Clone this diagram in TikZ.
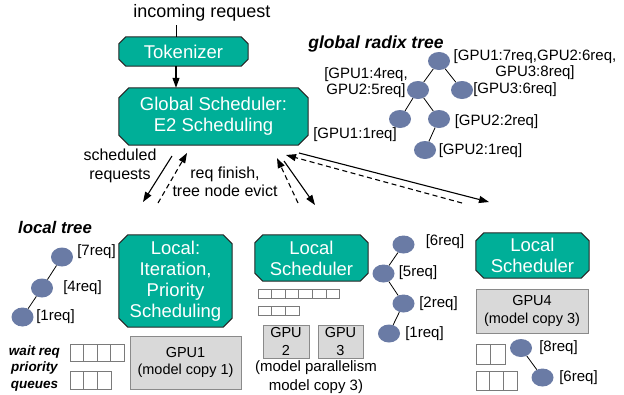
\documentclass[tikz,border=0pt]{standalone}
\usepackage{fontspec}
\setmainfont{Liberation Sans}
\usetikzlibrary{calc,arrows.meta,backgrounds,shapes.geometric}
\definecolor{tealc}{HTML}{00AF98}
\definecolor{treec}{HTML}{6A7BA5}
\definecolor{gpuc}{HTML}{D9D9D9}
\definecolor{gpub}{HTML}{8A8A8A}
\definecolor{cellb}{HTML}{7A7A7A}
\newcommand\octobox[2]{%
  \begin{pgfonlayer}{background}
  \path[octoshape] ($(#1.north west)+(#2pt,0pt)$) -- ($(#1.north east)+(-#2pt,0pt)$) -- ($(#1.north east)+(0pt,-#2pt)$) -- ($(#1.south east)+(0pt,#2pt)$) -- ($(#1.south east)+(-#2pt,0pt)$) -- ($(#1.south west)+(#2pt,0pt)$) -- ($(#1.south west)+(0pt,#2pt)$) -- ($(#1.north west)+(0pt,-#2pt)$) -- cycle;
  \end{pgfonlayer}}
\newcommand\cellrow[5]{\foreach \ci in {1,...,#3}{\draw[cellst] ({#1+(\ci-1)*#4},#2) rectangle ++(#4,#5);}}
\tikzset{
  tealbox/.style={rectangle, inner sep=0pt, text=white, align=center, font=\fontsize{18.5}{21}\selectfont},
  octoshape/.style={fill=tealc, draw=black!85, line width=1pt},
  gpubox/.style={rectangle, fill=gpuc, draw=gpub, line width=1pt, align=center, inner sep=0pt, font=\fontsize{14.5}{17.5}\selectfont},
  tnode/.style={ellipse, fill=treec, minimum width=22pt, minimum height=18pt, inner sep=0pt},
  tlabel/.style={font=\fontsize{15}{16}\selectfont, inner sep=0pt, align=center},
  tedge/.style={line width=0.8pt},
  conn/.style={line width=1.1pt, -{Triangle[length=10pt,width=7pt]}},
  dconn/.style={conn, dash pattern=on 5pt off 3.5pt},
  cellst/.style={draw=cellb, fill=white, line width=0.8pt},
  plain/.style={inner sep=0pt, align=center},
}
\begin{document}
\begin{tikzpicture}[x=1pt,y=-1pt]
\useasboundingbox (0,0) rectangle (624,394);
% top
\node[plain, font=\fontsize{18}{20}\selectfont] (incoming) at (202,13) {incoming request};
\node[tealbox, minimum width=129pt, minimum height=29pt] (tok) at (183.5,51.5) {Tokenizer};
\octobox{tok}{7}
\node[tealbox, minimum width=189pt, minimum height=57pt] (glob) at (213.5,116.5) {Global Scheduler:\\E2 Scheduling};
\octobox{glob}{10}
\coordinate (inc) at (176,25);
\draw[line width=1pt] (inc) -- (inc |- tok.north);
\draw[conn] (tok.south -| inc) -- (glob.north -| inc);
% labels of arrows
\node[plain, font=\fontsize{16}{19}\selectfont] (schedlbl) at (120,165.5) {scheduled\\requests};
\node[plain, font=\fontsize{16}{18}\selectfont] (finlbl) at (225,182) {req finish,\\tree node evict};
% global radix tree
\node[plain, font=\fontsize{17.5}{20}\selectfont\bfseries\itshape] (gtitle) at (376,44) {global radix tree};
\node[tnode] (R) at (439,61) {};
\node[tnode] (A) at (418,90) {};
\node[tnode] (B) at (462,90) {};
\node[tnode] (C) at (400,119) {};
\node[tnode] (D) at (439,119) {};
\node[tnode] (E) at (425,150) {};
\draw[tedge] (R) -- (A); \draw[tedge] (R) -- (B);
\draw[tedge] (A) -- (C); \draw[tedge] (A) -- (D);
\draw[tedge] (D) -- (E);
\node[tlabel] (Rl) at (535,64.5) {[GPU1:7req,GPU2:6req,\\GPU3:8req]};
\node[tlabel] (Al) at (366,83) {[GPU1:4req,\\GPU2:5req]};
\node[tlabel] (Bl) at (515,90) {[GPU3:6req]};
\node[tlabel] (Cl) at (355,135) {[GPU1:1req]};
\node[tlabel] (Dl) at (496.5,122) {[GPU2:2req]};
\node[tlabel] (El) at (480.5,151) {[GPU2:1req]};
% local scheduler boxes
\node[tealbox, minimum width=113pt, minimum height=92pt] (loc1) at (175.5,281) {Local:\\Iteration,\\Priority\\Scheduling};
\octobox{loc1}{9}
\node[tealbox, minimum width=113pt, minimum height=46pt] (loc2) at (311.5,258) {Local\\Scheduler};
\octobox{loc2}{8}
\node[tealbox, minimum width=113pt, minimum height=45pt] (loc3) at (532.5,255.5) {Local\\Scheduler};
\octobox{loc3}{8}
% GPUs
\node[gpubox, minimum width=111pt, minimum height=53pt] (gpu1) at (185.5,362.5) {GPU1\\(model copy 1)};
\node[gpubox, minimum width=46pt, minimum height=33pt] (gpu2) at (286,341.5) {GPU\\2};
\node[gpubox, minimum width=45pt, minimum height=33pt] (gpu3) at (340.5,341.5) {GPU\\3};
\node[gpubox, minimum width=112pt, minimum height=44pt] (gpu4) at (532,311) {GPU4\\(model copy 3)};
\node[plain, font=\fontsize{15}{19}\selectfont] (mp) at (316,377.5) {(model parallelism\\model copy 3)};
% queues
\cellrow{70}{344}{4}{13.5}{17}
\cellrow{70}{371}{3}{13.67}{18}
\cellrow{258}{289.3}{6}{13.62}{9}
\cellrow{258}{306}{3}{13.67}{9}
\cellrow{476}{344}{2}{14.5}{20}
\cellrow{476}{371}{3}{13.67}{19}
\node[plain, font=\fontsize{13.5}{16.5}\selectfont\bfseries\itshape] (wq) at (34.5,368.5) {wait req\\priority\\queues};
% local tree 1
\node[plain, font=\fontsize{16.8}{19}\selectfont\bfseries\itshape] (ltitle) at (55,227.5) {local tree};
\node[tnode, minimum height=19pt] (l1) at (62,257) {};
\node[tnode, minimum height=19pt] (l2) at (42,288) {};
\node[tnode, minimum height=19pt] (l3) at (22.5,317) {};
\draw[tedge] (l1) -- (l2); \draw[tedge] (l2) -- (l3);
\node[tlabel] (l1l) at (96.5,252) {[7req]};
\node[tlabel] (l2l) at (82.5,288) {[4req]};
\node[tlabel] (l3l) at (55.5,317) {[1req]};
% local tree 2
\node[tnode] (m1) at (403.5,244.5) {};
\node[tnode] (m2) at (383.5,273.5) {};
\node[tnode] (m3) at (403.5,303.5) {};
\node[tnode] (m4) at (389,333.5) {};
\draw[tedge] (m1) -- (m2); \draw[tedge] (m2) -- (m3); \draw[tedge] (m3) -- (m4);
\node[tlabel] (m1l) at (445,242) {[6req]};
\node[tlabel] (m2l) at (418,273) {[5req]};
\node[tlabel] (m3l) at (438.5,304) {[2req]};
\node[tlabel] (m4l) at (424.5,334) {[1req]};
% local tree 3
\node[tnode] (r1) at (521,348) {};
\node[tnode] (r2) at (542.5,377.5) {};
\draw[tedge] (r1) -- (r2);
\node[tlabel] (r1l) at (558.5,348) {[8req]};
\node[tlabel] (r2l) at (578.5,378) {[6req]};
% connectors between global and local schedulers
\coordinate (a1s) at (172,156); \coordinate (a1e) at (143,202);
\coordinate (a2s) at (158,203); \coordinate (a2e) at (187,153);
\coordinate (a3s) at (298,203); \coordinate (a3e) at (277,158);
\coordinate (a4s) at (284,161); \coordinate (a4e) at (315,205);
\coordinate (a5s) at (299,153); \coordinate (a5e) at (489,202);
\coordinate (a6s) at (462,203); \coordinate (a6e) at (286,155);
\draw[conn] (a1s) -- (a1e);
\draw[dconn] (a2s) -- (a2e);
\draw[dconn] (a3s) -- (a3e);
\draw[conn] (a4s) -- (a4e);
\draw[conn] (a5s) -- (a5e);
\draw[dconn] (a6s) -- (a6e);
\end{tikzpicture}
\end{document}
